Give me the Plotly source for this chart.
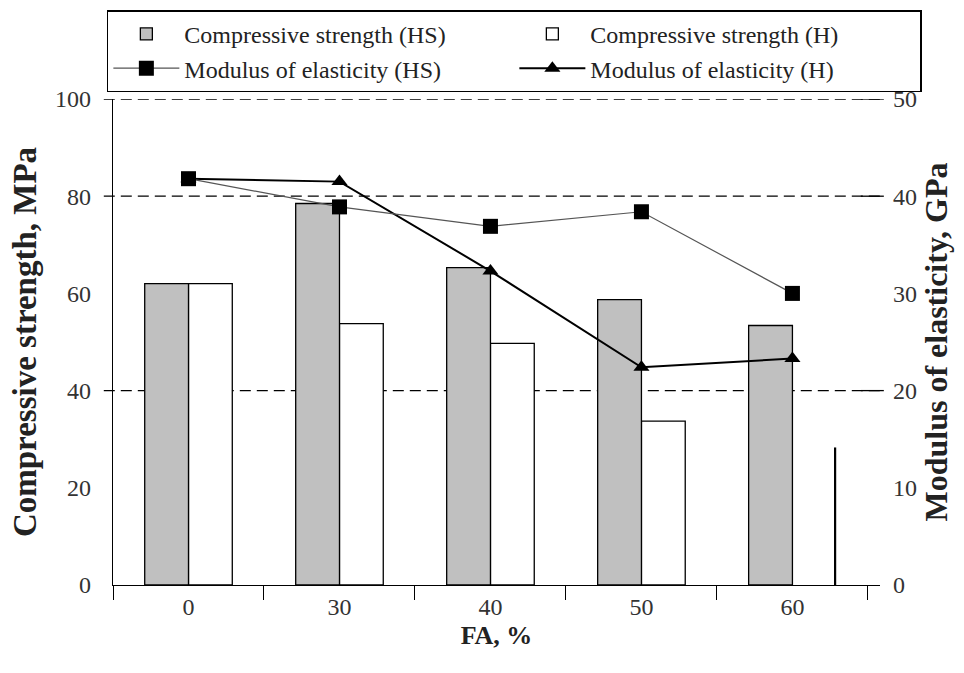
import plotly.graph_objects as go

# Fly-ash replacement levels (%)
fa_levels = ["0", "30", "40", "50", "60"]

# Compressive strength, MPa
cs_hs = [62.0, 78.5, 65.3, 58.7, 53.4]
cs_h = [62.0, 53.8, 49.7, 33.7, 28.3]

# Modulus of elasticity, GPa
moe_hs = [41.8, 38.9, 36.9, 38.4, 30.0]
moe_h = [41.8, 41.5, 32.3, 22.4, 23.3]

left_ticks = [0, 20, 40, 60, 80, 100]
right_ticks = [0, 10, 20, 30, 40, 50]
grid_levels = [40, 80, 100]

SERIF = "Liberation Serif"
BAR_W = 0.29
EDGE_W = 0.009

fig = go.Figure()

fig.add_trace(go.Bar(
    x=fa_levels, y=cs_h, name="Compressive strength (H)",
    width=BAR_W, offset=0,
    marker=dict(color="white",
                line=dict(color=["black"] * (len(cs_h) - 1) + ["rgba(0,0,0,0)"], width=1.3)),
    legendrank=2,
))
fig.add_trace(go.Bar(
    x=fa_levels, y=cs_hs, name="Compressive strength (HS)",
    width=BAR_W, offset=-BAR_W,
    marker=dict(color="#c0c0c0", line=dict(color="black", width=1.3)),
    legendrank=1,
))
# only the right edge of the last H bar is outlined
fig.add_trace(go.Bar(
    x=fa_levels[-1:], y=cs_h[-1:], width=EDGE_W, offset=BAR_W - EDGE_W,
    marker=dict(color="black", line=dict(width=0)),
    showlegend=False, hoverinfo="skip",
))

fig.add_trace(go.Scatter(
    x=fa_levels, y=moe_h, yaxis="y2", name="Modulus of elasticity (H)",
    mode="lines+markers",
    line=dict(color="black", width=2),
    marker=dict(symbol="triangle-up", size=14, color="black"),
    legendrank=4,
))
fig.add_trace(go.Scatter(
    x=fa_levels, y=moe_hs, yaxis="y2", name="Modulus of elasticity (HS)",
    mode="lines+markers",
    line=dict(color="#555555", width=1.2),
    marker=dict(symbol="square", size=15, color="black"),
    legendrank=3,
))

shapes = []
for g in grid_levels:
    shapes.append(dict(type="line", xref="paper", yref="y", x0=-0.012, x1=1.0,
                       y0=g, y1=g, layer="below",
                       line=dict(color="black", width=1.3, dash="11px,6px")))
    shapes.append(dict(type="line", xref="paper", yref="y", x0=0.975, x1=1.005,
                       y0=g, y1=g, layer="below",
                       line=dict(color="black", width=1.3)))

fig.update_layout(
    width=964, height=673,
    margin=dict(l=113, r=84, t=98, b=88),
    paper_bgcolor="white", plot_bgcolor="white",
    barmode="overlay",
    font=dict(family=SERIF, color="#222222"),
    shapes=shapes,
    xaxis=dict(
        type="category", range=[-0.5, 4.58],
        tickson="boundaries", ticks="outside", ticklen=14, tickwidth=1.3,
        tickcolor="black",
        showline=True, linecolor="black", linewidth=1.3,
        showgrid=False, zeroline=False,
        tickfont=dict(family=SERIF, size=24, color="#333333"),
        title=dict(text="<b>FA, %</b>", font=dict(family=SERIF, size=26, color="#222222"),
                   standoff=6),
    ),
    yaxis=dict(
        range=[0, 100], tickvals=left_ticks, ticks="",
        ticklabelstandoff=16,
        showline=True, linecolor="black", linewidth=1.3,
        showgrid=False, zeroline=False,
        tickfont=dict(family=SERIF, size=24, color="#333333"),
        title=dict(text="<b>Compressive strength, MPa</b>",
                   font=dict(family=SERIF, size=33, color="#222222"), standoff=8),
    ),
    yaxis2=dict(
        range=[0, 50], tickvals=right_ticks, ticks="",
        overlaying="y", side="right",
        ticklabelstandoff=12,
        showline=False, showgrid=False, zeroline=False,
        tickfont=dict(family=SERIF, size=24, color="#333333"),
        title=dict(text="<b>Modulus of elasticity, GPa</b>",
                   font=dict(family=SERIF, size=32, color="#222222"), standoff=8),
    ),
    legend=dict(
        orientation="h", x=-0.008, xanchor="left", y=1.18, yanchor="top",
        bordercolor="black", borderwidth=1.5, bgcolor="rgba(255,255,255,0)",
        entrywidth=325, entrywidthmode="pixels", itemwidth=66,
        font=dict(size=24, family=SERIF, color="#222222"),
        traceorder="normal",
    ),
    showlegend=True,
)

fig.write_html("out.html")
